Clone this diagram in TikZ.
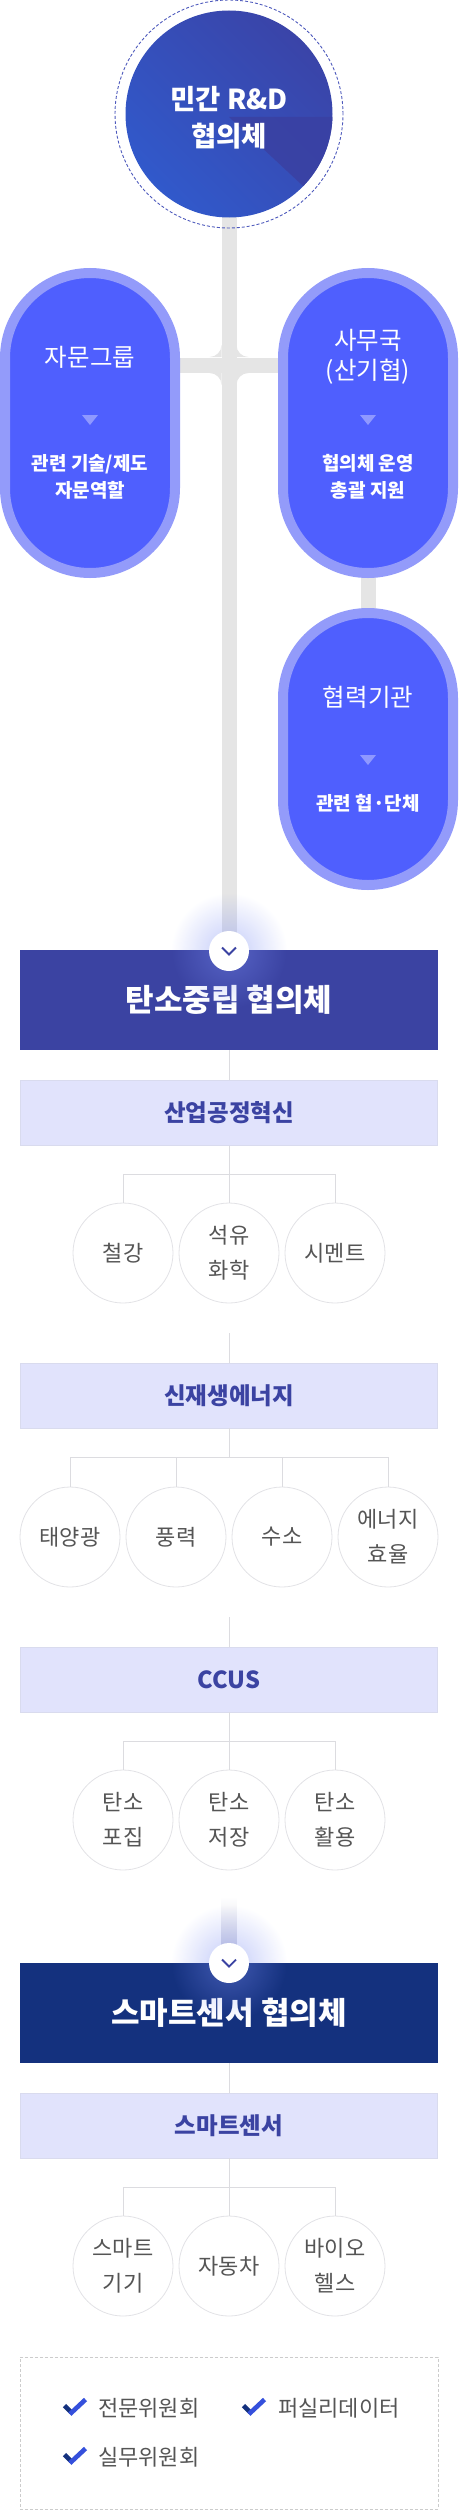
\documentclass[tikz,border=0pt]{standalone}
\usepackage{fontspec}
\setmainfont{Noto Sans CJK KR}
\usetikzlibrary{positioning,calc,fadings,backgrounds}
\definecolor{ink}{HTML}{555555}
\definecolor{rim}{HTML}{939BFA}
\definecolor{core}{HTML}{4F5FFE}
\definecolor{notchc}{HTML}{8F98FF}
\definecolor{notchdark}{HTML}{3A42C2}
\definecolor{cnavy}{HTML}{3B43A2}
\definecolor{cdeep}{HTML}{14317E}
\definecolor{cbright}{HTML}{3550DC}
\definecolor{rdtop}{HTML}{3A44A8}
\definecolor{rdbottom}{HTML}{3159CB}
\definecolor{rdshade}{HTML}{3A41A3}
\definecolor{lav}{HTML}{E1E3FC}
\definecolor{lavline}{HTML}{D9DBEE}
\definecolor{trunkc}{HTML}{E5E5E5}
\definecolor{twigc}{HTML}{DCDCE0}
\definecolor{leafline}{HTML}{E2E2E6}
\definecolor{ringc}{HTML}{4D59BC}
\definecolor{glowc}{HTML}{7A8CF2}
\definecolor{panelline}{HTML}{CCCCCC}
\newcommand{\fsz}[2]{\fontsize{#1}{#2}\selectfont}
\tikzfading[name=glowfade, inner color=transparent!55, outer color=transparent!100]
\tikzfading[name=sidefade, left color=transparent!100, middle color=transparent!0, right color=transparent!100]
\tikzset{
  % the big round council at the top
  ring/.style={circle, draw=ringc, line width=0.9pt, dash pattern=on 3pt off 2pt, minimum size=228pt, inner sep=0pt},
  rdcore/.style={circle, minimum size=207pt, inner sep=0pt, top color=rdtop, bottom color=rdbottom, shading angle=-45},
  rdlabel/.style={text=white, align=center, font=\fsz{27.5}{37}\bfseries},
  % pill shaped bodies; height given at the node
  pill/.style={rectangle, draw=rim, fill=core, line width=10pt, rounded corners=85pt, minimum width=170pt},
  pilltitle/.style={text=white, align=center, font=\fsz{24.5}{30}},
  pillnote/.style={text=white, align=center, font=\fsz{19}{27}\bfseries},
  notch/.pic={
    \shade[top color=notchdark, bottom color=core, path fading=sidefade] (-37,0) rectangle (37,11);
    \fill[notchc] (-8,0) -- (8,0) -- (0,10) -- cycle;
  },
  % councils, sections and members
  banner/.style={rectangle, fill=#1, minimum width=418pt, minimum height=100pt, inner sep=0pt, text=white, font=\fsz{31}{36}\bfseries},
  sect/.style={rectangle, draw=lavline, fill=lav, line width=0.8pt, minimum width=417pt, minimum height=65pt, inner sep=0pt, text=cnavy, font=\fsz{23.5}{28}\bfseries},
  leaf/.style={circle, draw=leafline, fill=white, line width=0.8pt, minimum size=100pt, inner sep=0pt, align=center, text=ink, font=\fsz{22}{35}},
  twig/.style={draw=twigc, line width=1pt},
  trunkline/.style={draw=trunkc, line width=15pt},
  fillet/.pic={\fill[trunkc] (0,0) -- (0,-12) .. controls (0,-5.37) and (-5.37,0) .. (-12,0) -- cycle;},
  hop/.style={circle, fill=white, minimum size=40pt, inner sep=0pt},
  chev/.style={draw=cnavy, line width=1.8pt},
  % committee list
  panel/.style={rectangle, draw=panelline, line width=0.9pt, dash pattern=on 3pt off 2pt, minimum width=418pt, minimum height=152pt},
  item/.style={anchor=west, text=ink, inner sep=0pt, font=\fsz{22}{26}},
  checkmark/.pic={
    \draw[cdeep, line width=4.6pt] (1.5,-2.5) -- (8.5,4.5);
    \draw[cbright, line width=4.6pt] (6.9,6.1) -- (22.5,-8.5);
  },
}

\begin{document}
\begin{tikzpicture}[x=1pt,y=-1pt]
  \useasboundingbox (0,0) rectangle (458,2510);

  % ---- top: private R&D council ----
  \node[ring] (rdring) at (229,114) {};
  \node[rdcore] (rd) at (229,114) {};
  \begin{scope}
    \clip (229,114) circle (103.5pt);
    \fill[rdshade, opacity=0.9] (229,117) -- (345,117) -- (345,225) -- cycle;
  \end{scope}
  \node[rdlabel] (rdname) at (229,118) {민간 R\&D\\협의체};

  % ---- supporting bodies ----
  \node[pill, minimum height=300pt] (adv)    at (90,423)  {};
  \node[pill, minimum height=300pt] (office) at (368,423) {};
  \node[pill, minimum height=272pt] (coop)   at (368,749) {};
  \node[pilltitle] (advt)    at (90,357)  {자문그룹};
  \node[pilltitle] (officet) at (368,357) {사무국\\(산기협)};
  \node[pilltitle] (coopt)   at (368,697) {협력기관};
  \foreach \x/\y in {90/415, 368/415, 368/755}
    \pic at (\x,\y) {notch};
  \node[pillnote] (advn)    at (90,477)  {관련 기술/제도\\자문역할};
  \node[pillnote] (officen) at (368,477) {협의체 운영\\총괄 지원};
  \node[pillnote] (coopn)   at (368,803) {관련 협·단체};

  % ---- carbon neutrality council ----
  \node[banner=cnavy] (cn) at (229,1000) {탄소중립 협의체};
  \fill[glowc, path fading=glowfade] (229,951) circle (58pt);
  \node[hop] (hop1) at (229,951) {};
  \draw[chev] ([shift={(-7,-3.5)}]hop1.center) -- ([shift={(0,3.5)}]hop1.center) -- ([shift={(7,-3.5)}]hop1.center);

  \node[sect] (s1) at (229,1113) {산업공정혁신};
  \draw[twig] (cn) -- (s1);
  \node[leaf] (s1a) at (123,1253) {철강};
  \node[leaf] (s1b) at (229,1253) {석유\\화학};
  \node[leaf] (s1c) at (335,1253) {시멘트};
  \coordinate (j1) at (229,1174);
  \draw[twig] (s1.south) -- (s1b.north);
  \draw[twig] (s1a.north) |- (j1) -| (s1c.north);

  \coordinate (s2stub) at (229,1333);
  \node[sect] (s2) at (229,1395.5) {신재생에너지};
  \draw[twig] (s2stub) -- (s2.north);
  \node[leaf] (s2a) at (70,1537)  {태양광};
  \node[leaf] (s2b) at (176,1537) {풍력};
  \node[leaf] (s2c) at (282,1537) {수소};
  \node[leaf] (s2d) at (388,1537) {에너지\\효율};
  \coordinate (j2) at (229,1457);
  \draw[twig] (s2.south) -- (j2);
  \draw[twig] (s2a.north) |- (j2) -| (s2d.north);
  \draw[twig] (s2b.north) -- (s2b.north |- j2);
  \draw[twig] (s2c.north) -- (s2c.north |- j2);

  \coordinate (s3stub) at (229,1617);
  \node[sect] (s3) at (229,1679.5) {CCUS};
  \draw[twig] (s3stub) -- (s3.north);
  \node[leaf] (s3a) at (123,1820) {탄소\\포집};
  \node[leaf] (s3b) at (229,1820) {탄소\\저장};
  \node[leaf] (s3c) at (335,1820) {탄소\\활용};
  \coordinate (j3) at (229,1741);
  \draw[twig] (s3.south) -- (s3b.north);
  \draw[twig] (s3a.north) |- (j3) -| (s3c.north);

  % ---- smart sensor council ----
  \coordinate (fade2) at (229,1897);
  \node[banner=cdeep] (sc) at (229,2013) {스마트센서 협의체};
  \fill[glowc, path fading=glowfade] (229,1963) circle (58pt);
  \node[hop] (hop2) at (229,1963) {};
  \draw[chev] ([shift={(-7,-3.5)}]hop2.center) -- ([shift={(0,3.5)}]hop2.center) -- ([shift={(7,-3.5)}]hop2.center);

  \node[sect] (s4) at (229,2125.5) {스마트센서};
  \draw[twig] (sc) -- (s4);
  \node[leaf] (s4a) at (123,2266) {스마트\\기기};
  \node[leaf] (s4b) at (229,2266) {자동차};
  \node[leaf] (s4c) at (335,2266) {바이오\\헬스};
  \coordinate (j4) at (229,2187);
  \draw[twig] (s4.south) -- (s4b.north);
  \draw[twig] (s4a.north) |- (j4) -| (s4c.north);

  % ---- committees ----
  \node[panel] (box) at (229,2433) {};
  \node[item] (it1) at (98,2408)  {전문위원회};
  \node[item] (it2) at (278,2408) {퍼실리데이터};
  \node[item] (it3) at (98,2457)  {실무위원회};
  \pic at (63,2408)  {checkmark};
  \pic at (242,2408) {checkmark};
  \pic at (63,2457)  {checkmark};

  % ---- grey trunk behind everything ----
  \begin{scope}[on background layer]
    \draw[trunkline] (rd.center) -- (hop1.center);
    \draw[trunkline] ([yshift=58pt]adv.center) -- ([yshift=58pt]office.center);
    \draw[trunkline] (office.center) -- (coop.center);
    \pic at (221.5,357) {fillet};
    \pic[xscale=-1] at (236.5,357) {fillet};
    \pic[yscale=-1] at (221.5,373) {fillet};
    \pic[xscale=-1, yscale=-1] at (236.5,373) {fillet};
    \shade[top color=white, bottom color=trunkc!80!cnavy] ([xshift=-7.5pt]fade2) rectangle ([xshift=7.5pt]hop2.center);
  \end{scope}
\end{tikzpicture}
\end{document}
